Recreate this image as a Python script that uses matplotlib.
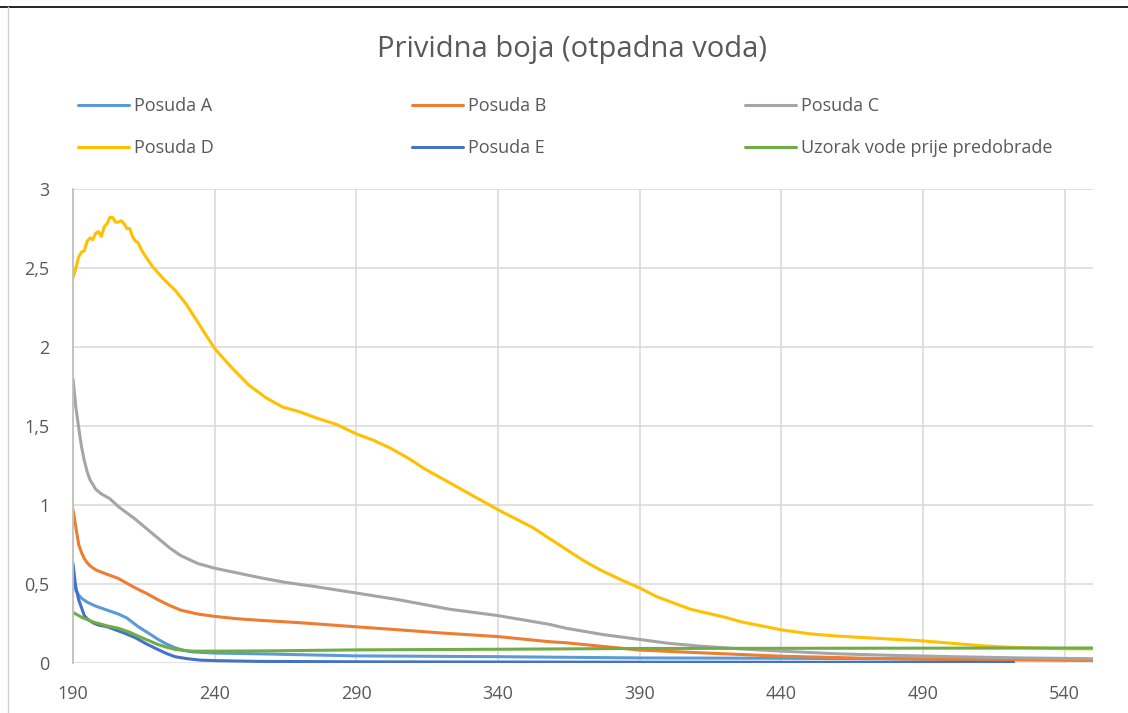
import matplotlib
matplotlib.use("Agg")
import matplotlib.pyplot as plt
from matplotlib.lines import Line2D
from matplotlib.ticker import FuncFormatter

### data
a_x = [190, 191, 192, 193, 195, 198, 202, 206, 209, 213, 217, 220, 223, 226, 229, 232, 240, 256, 290, 340, 390, 440, 490, 550]
a_y = [0.51, 0.46, 0.43, 0.41, 0.385, 0.36, 0.335, 0.31, 0.285, 0.23, 0.185, 0.15, 0.12, 0.097, 0.08, 0.07, 0.063, 0.058, 0.045, 0.04, 0.032, 0.03, 0.025, 0.02]

b_x = [190, 191, 192, 193, 194, 195, 196, 198, 200, 203, 206, 209, 212, 216, 220, 224, 228, 234, 240, 248, 256, 270, 290, 305, 320, 340, 358, 364, 377, 390, 411, 440, 470, 500, 550]
b_y = [0.97, 0.86, 0.75, 0.70, 0.66, 0.635, 0.615, 0.59, 0.575, 0.555, 0.535, 0.505, 0.475, 0.44, 0.40, 0.365, 0.335, 0.31, 0.295, 0.28, 0.27, 0.255, 0.229, 0.21, 0.19, 0.167, 0.135, 0.128, 0.105, 0.082, 0.065, 0.043, 0.03, 0.022, 0.016]

c_x = [190, 191, 192, 193, 194, 195, 196, 197, 198, 200, 203, 206, 209, 212, 216, 220, 224, 228, 234, 240, 248, 256, 265, 275, 290, 305, 323, 340, 358, 364, 377, 390, 400, 411, 425, 440, 460, 480, 500, 525, 550]
c_y = [1.80, 1.62, 1.49, 1.37, 1.28, 1.21, 1.16, 1.13, 1.10, 1.07, 1.04, 0.99, 0.95, 0.91, 0.85, 0.79, 0.73, 0.68, 0.63, 0.60, 0.57, 0.54, 0.51, 0.485, 0.443, 0.40, 0.34, 0.30, 0.245, 0.22, 0.18, 0.149, 0.125, 0.107, 0.09, 0.075, 0.058, 0.048, 0.04, 0.032, 0.027]

d_x = [190, 191, 192, 193, 194, 195, 196, 197, 198, 199, 200, 201, 202, 203, 204, 205, 206, 207, 208, 209, 210, 211, 212, 213, 214, 215,
       218, 222, 226, 230, 235, 240, 246, 252, 258, 264, 270, 276, 283, 290, 296, 302, 308, 314, 320, 326, 333, 340, 346, 352, 358, 364, 370,
       376, 383, 390, 396, 402, 408, 414, 420, 426, 433, 440, 450, 460, 470, 480, 490, 500, 510, 520, 530, 540, 550]
d_y = [2.44, 2.50, 2.57, 2.60, 2.61, 2.67, 2.69, 2.68, 2.72, 2.73, 2.70, 2.76, 2.78, 2.82, 2.82, 2.79, 2.79, 2.80, 2.78, 2.75, 2.75, 2.70, 2.67, 2.66, 2.62, 2.59,
       2.51, 2.43, 2.36, 2.27, 2.13, 1.99, 1.87, 1.76, 1.68, 1.62, 1.59, 1.55, 1.51, 1.45, 1.41, 1.36, 1.30, 1.23, 1.17, 1.11, 1.04, 0.97, 0.915, 0.86, 0.79, 0.72, 0.65,
       0.59, 0.53, 0.475, 0.42, 0.38, 0.34, 0.315, 0.29, 0.26, 0.235, 0.21, 0.185, 0.17, 0.16, 0.15, 0.14, 0.125, 0.11, 0.10, 0.095, 0.09, 0.09]

e_x = [190, 190.5, 191, 192, 193, 194, 195, 197, 199, 202, 205, 208, 212, 216, 220, 223, 226, 230, 235, 240, 256, 300, 400, 522]
e_y = [0.63, 0.55, 0.48, 0.40, 0.35, 0.30, 0.28, 0.255, 0.24, 0.23, 0.21, 0.19, 0.16, 0.12, 0.085, 0.06, 0.04, 0.028, 0.018, 0.015, 0.01, 0.007, 0.005, 0.004]

f_x = [190, 193, 197, 202, 206, 210, 213, 217, 220, 223, 226, 232, 240, 260, 290, 340, 390, 440, 490, 550]
f_y = [0.32, 0.29, 0.26, 0.235, 0.22, 0.195, 0.17, 0.14, 0.117, 0.10, 0.086, 0.075, 0.075, 0.077, 0.083, 0.087, 0.092, 0.093, 0.094, 0.095]

names = ["Posuda A", "Posuda B", "Posuda C", "Posuda D", "Posuda E", "Uzorak vode prije predobrade"]
colors = ["#5B9BD5", "#ED7D31", "#A5A5A5", "#FFC000", "#4472C4", "#70AD47"]
series = [(a_x, a_y), (b_x, b_y), (c_x, c_y), (d_x, d_y), (e_x, e_y), (f_x, f_y)]

x_ticks = [190, 240, 290, 340, 390, 440, 490, 540]
y_ticks = [0, 0.5, 1, 1.5, 2, 2.5, 3]

### figure
plt.rcParams['font.family'] = ['Open Sans', 'DejaVu Sans']
txt = "#595959"
fig = plt.figure(figsize=(11.28, 7.13), dpi=100)
ax = fig.add_axes([73/1128, 1-663/713, (1093-73)/1128, (663-189)/713])

lines = []
for (xs, ys), n, c in zip(series, names, colors):
    l, = ax.plot(xs, ys, color=c, lw=2.2, label=n, solid_capstyle="round", solid_joinstyle="round")
    lines.append(l)

ax.set_xlim(190, 550)
ax.set_ylim(0, 3)
ax.set_xticks(x_ticks)
ax.set_yticks(y_ticks)
ax.yaxis.set_major_formatter(FuncFormatter(lambda v, p: ("%g" % v).replace(".", ",")))
ax.grid(True, color="#D9D9D9", lw=1.1)
ax.set_axisbelow(True)
for s in ["top", "right", "bottom"]:
    ax.spines[s].set_visible(False)
ax.spines["left"].set_color("#BFBFBF")
ax.spines["left"].set_linewidth(1.3)
ax.tick_params(length=0, labelsize=13, colors=txt)
ax.tick_params(axis="x", pad=16)
ax.tick_params(axis="y", pad=17)

fig.text(572/1128, 1-50/713, "Prividna boja (otpadna voda)", ha="center", va="center", fontsize=21, color=txt)

# legend row-wise: A B C / D E F
order = [0, 3, 1, 4, 2, 5]
fig.legend([lines[i] for i in order], [names[i] for i in order], ncol=3,
           bbox_to_anchor=(78/1128, 1-97/713), loc="upper left",
           frameon=False, fontsize=13, labelcolor=txt, handlelength=2.8, handletextpad=0.3,
           labelspacing=1.32, columnspacing=11.0, borderpad=0, borderaxespad=0)

# screenshot frame lines
fig.add_artist(Line2D([0, 1], [1-7/713, 1-7/713], color="black", lw=1.2, transform=fig.transFigure))
fig.add_artist(Line2D([8/1128, 8/1128], [0, 1-7/713], color="#D0D0D0", lw=1, transform=fig.transFigure))

plt.savefig("out.png", dpi=100)
